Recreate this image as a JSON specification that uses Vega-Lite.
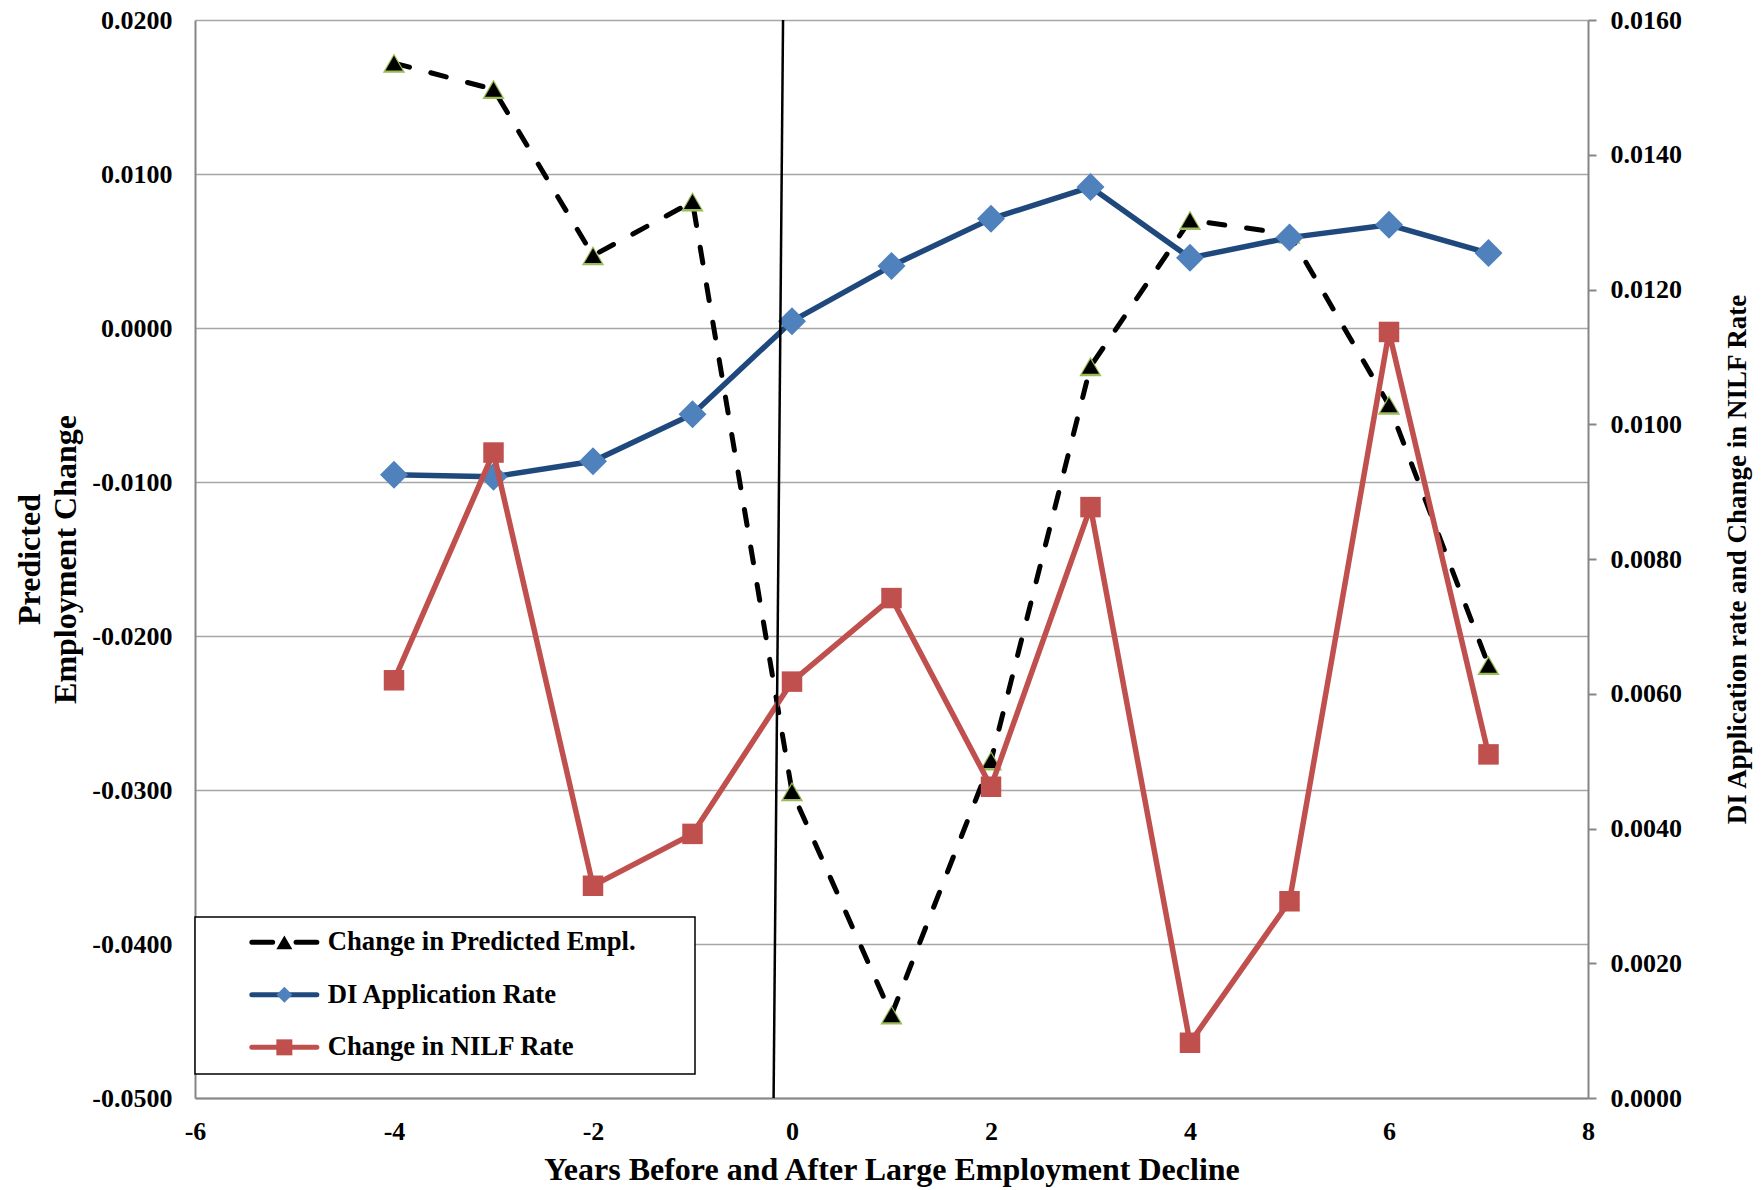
{
  "$schema": "https://vega.github.io/schema/vega-lite/v6.json",
  "width": 1393,
  "height": 1078,
  "autosize": {"type": "none"},
  "padding": {"left": 195, "top": 20, "right": 174, "bottom": 92},
  "background": "white",
  "config": {
    "view": {"stroke": null},
    "font": "Liberation Serif",
    "axis": {
      "labelFont": "Liberation Serif", "labelFontSize": 26, "labelFontWeight": "bold", "labelColor": "#000000",
      "titleFont": "Liberation Serif", "titleFontWeight": "bold", "titleColor": "#000000",
      "domainColor": "#868686", "domainWidth": 2, "tickColor": "#868686", "tickWidth": 2,
      "gridColor": "#A6A6A6", "gridWidth": 1.5, "labelFlush": false, "labelOverlap": false
    }
  },
  "datasets": {
    "main": [
      {"year": -4, "emp": 0.0172, "di": 0.00925, "nilf": 0.0062},
      {"year": -3, "emp": 0.0155, "di": 0.00922, "nilf": 0.00958},
      {"year": -2, "emp": 0.0047, "di": 0.00945, "nilf": 0.00315},
      {"year": -1, "emp": 0.0082, "di": 0.01015, "nilf": 0.00392},
      {"year": 0, "emp": -0.0301, "di": 0.01153, "nilf": 0.00618},
      {"year": 1, "emp": -0.0446, "di": 0.01235, "nilf": 0.00742},
      {"year": 2, "emp": -0.0281, "di": 0.01305, "nilf": 0.00462},
      {"year": 3, "emp": -0.0025, "di": 0.01352, "nilf": 0.00877},
      {"year": 4, "emp": 0.0070, "di": 0.01247, "nilf": 0.00082},
      {"year": 5, "emp": 0.0061, "di": 0.01277, "nilf": 0.00292},
      {"year": 6, "emp": -0.0050, "di": 0.01296, "nilf": 0.01137},
      {"year": 7, "emp": -0.0219, "di": 0.01254, "nilf": 0.0051}
    ],
    "ref": [
      {"rx": -0.09, "ry": 0.016},
      {"rx": -0.185, "ry": 0}
    ]
  },
  "layer": [
    {
      "data": {"name": "main"},
      "layer": [
        {
          "mark": {"type": "line", "strokeWidth": 5, "strokeDash": [16, 22], "strokeCap": "round"},
          "encoding": {
            "x": {"field": "year", "type": "quantitative", "scale": {"domain": [-6, 8], "nice": false, "zero": false}, "axis": {"values": [-6, -4, -2, 0, 2, 4, 6, 8], "title": "Years Before and After Large Employment Decline", "titleFontSize": 32, "titlePadding": 10, "ticks": false, "labelPadding": 20, "grid": false, "labelExpr": "replace(format(datum.value, 'd'), '\u2212', '-')"}},
            "y": {"field": "emp", "type": "quantitative", "scale": {"domain": [-0.05, 0.02], "nice": false, "zero": false}, "axis": {"values": [-0.05, -0.04, -0.03, -0.02, -0.01, 0, 0.01, 0.02], "title": ["Predicted", "Employment Change"], "titleFontSize": 32, "titleLineHeight": 36, "titleAngle": -90, "titleX": -166, "titleY": 539, "titleBaseline": "middle", "titleAlign": "center", "grid": true, "ticks": false, "labelPadding": 23, "labelExpr": "replace(format(datum.value, '.4f'), '\u2212', '-')"}},
            "stroke": {"datum": "Change in Predicted Empl.", "type": "nominal",
              "scale": {"domain": ["Change in Predicted Empl.", "DI Application Rate", "Change in NILF Rate"], "range": ["#000000", "#1F497D", "#C0504D"]},
              "legend": {"orient": "none", "legendX": 0, "legendY": 897, "title": null, "padding": 12, "rowPadding": 24.5, "zindex": 1, "symbolSize": 169, "symbolStrokeWidth": 5, "symbolOffset": 64, "labelOffset": 30, "labelFont": "Liberation Serif", "labelFontWeight": "bold", "labelFontSize": 26.7, "labelColor": "#000000", "labelLimit": 800, "labelExpr": "datum.label + '\u00a0\u00a0\u00a0\u00a0\u00a0\u00a0\u00a0\u200b'",
                "encode": {"legend": {"update": {"stroke": {"value": "#000000"}, "strokeWidth": {"value": 1.5}, "fill": {"value": "#ffffff"}}},
                           "symbols": {"update": {"shape": {"signal": "datum.value === 'Change in Predicted Empl.' ? 'M-5,0L-1.8,0M1.8,0L5,0' : 'M-5,0L5,0'"}, "strokeCap": {"value": "round"}}}}}}
          }
        },
        {
          "mark": {"type": "point", "shape": "triangle-up", "filled": true, "size": 500, "opacity": 1, "color": "#9BBB59", "strokeWidth": 0},
          "encoding": {
            "x": {"field": "year", "type": "quantitative", "scale": {"domain": [-6, 8], "nice": false, "zero": false}, "axis": {"values": [-6, -4, -2, 0, 2, 4, 6, 8], "title": "Years Before and After Large Employment Decline", "titleFontSize": 32, "titlePadding": 10, "ticks": false, "labelPadding": 20, "grid": false, "labelExpr": "replace(format(datum.value, 'd'), '\u2212', '-')"}},
            "y": {"field": "emp", "type": "quantitative", "scale": {"domain": [-0.05, 0.02], "nice": false, "zero": false}, "axis": {"values": [-0.05, -0.04, -0.03, -0.02, -0.01, 0, 0.01, 0.02], "title": ["Predicted", "Employment Change"], "titleFontSize": 32, "titleLineHeight": 36, "titleAngle": -90, "titleX": -166, "titleY": 539, "titleBaseline": "middle", "titleAlign": "center", "grid": true, "ticks": false, "labelPadding": 23, "labelExpr": "replace(format(datum.value, '.4f'), '\u2212', '-')"}}
          }
        },
        {
          "mark": {"type": "point", "filled": true, "size": 290, "opacity": 1, "strokeWidth": 0},
          "encoding": {
            "x": {"field": "year", "type": "quantitative", "scale": {"domain": [-6, 8], "nice": false, "zero": false}, "axis": {"values": [-6, -4, -2, 0, 2, 4, 6, 8], "title": "Years Before and After Large Employment Decline", "titleFontSize": 32, "titlePadding": 10, "ticks": false, "labelPadding": 20, "grid": false, "labelExpr": "replace(format(datum.value, 'd'), '\u2212', '-')"}},
            "y": {"field": "emp", "type": "quantitative", "scale": {"domain": [-0.05, 0.02], "nice": false, "zero": false}, "axis": {"values": [-0.05, -0.04, -0.03, -0.02, -0.01, 0, 0.01, 0.02], "title": ["Predicted", "Employment Change"], "titleFontSize": 32, "titleLineHeight": 36, "titleAngle": -90, "titleX": -166, "titleY": 539, "titleBaseline": "middle", "titleAlign": "center", "grid": true, "ticks": false, "labelPadding": 23, "labelExpr": "replace(format(datum.value, '.4f'), '\u2212', '-')"}},
            "fill": {"datum": "m1", "type": "nominal",
              "scale": {"domain": ["m1", "m2", "m3"], "range": ["#000000", "#4F81BD", "#C0504D"]},
              "legend": {"orient": "none", "legendX": 0, "legendY": 897, "title": null, "padding": 12, "rowPadding": 24.5, "zindex": 2, "symbolSize": 256, "symbolStrokeWidth": 0, "symbolOffset": 64, "labelOffset": 30, "labelFont": "Liberation Serif", "labelFontWeight": "bold", "labelFontSize": 26.7, "labelColor": "#000000", "labelLimit": 800, "labelExpr": "'\u00a0'"}},
            "shape": {"datum": "m1", "type": "nominal",
              "scale": {"domain": ["m1", "m2", "m3"], "range": ["triangle-up", "diamond", "square"]},
              "legend": {"orient": "none", "legendX": 0, "legendY": 897, "title": null, "padding": 12, "rowPadding": 24.5, "zindex": 2, "symbolSize": 256, "symbolStrokeWidth": 0, "symbolOffset": 64, "labelOffset": 30, "labelFont": "Liberation Serif", "labelFontWeight": "bold", "labelFontSize": 26.7, "labelColor": "#000000", "labelLimit": 800, "labelExpr": "'\u00a0'"}}
          }
        }
      ]
    },
    {
      "layer": [
        {
          "data": {"name": "main"},
          "mark": {"type": "line", "strokeWidth": 5.5},
          "encoding": {
            "x": {"field": "year", "type": "quantitative", "scale": {"domain": [-6, 8], "nice": false, "zero": false}, "axis": {"values": [-6, -4, -2, 0, 2, 4, 6, 8], "title": "Years Before and After Large Employment Decline", "titleFontSize": 32, "titlePadding": 10, "ticks": false, "labelPadding": 20, "grid": false, "labelExpr": "replace(format(datum.value, 'd'), '\u2212', '-')"}},
            "y": {"field": "di", "type": "quantitative", "scale": {"domain": [0, 0.016], "nice": false, "zero": false}, "axis": {"orient": "right", "values": [0, 0.002, 0.004, 0.006, 0.008, 0.01, 0.012, 0.014, 0.016], "format": ".4f", "title": "DI Application rate and Change  in NILF Rate", "titleFontSize": 27, "titleAngle": -90, "titleX": 149, "titleY": 539, "titleBaseline": "middle", "titleAlign": "center", "grid": false, "ticks": true, "tickSize": 8, "labelPadding": 14}},
            "stroke": {"datum": "DI Application Rate", "type": "nominal",
              "scale": {"domain": ["Change in Predicted Empl.", "DI Application Rate", "Change in NILF Rate"], "range": ["#000000", "#1F497D", "#C0504D"]},
              "legend": {"orient": "none", "legendX": 0, "legendY": 897, "title": null, "padding": 12, "rowPadding": 24.5, "zindex": 1, "symbolSize": 169, "symbolStrokeWidth": 5, "symbolOffset": 64, "labelOffset": 30, "labelFont": "Liberation Serif", "labelFontWeight": "bold", "labelFontSize": 26.7, "labelColor": "#000000", "labelLimit": 800, "labelExpr": "datum.label + '\u00a0\u00a0\u00a0\u00a0\u00a0\u00a0\u00a0\u200b'",
                "encode": {"legend": {"update": {"stroke": {"value": "#000000"}, "strokeWidth": {"value": 1.5}, "fill": {"value": "#ffffff"}}},
                           "symbols": {"update": {"shape": {"signal": "datum.value === 'Change in Predicted Empl.' ? 'M-5,0L-1.8,0M1.8,0L5,0' : 'M-5,0L5,0'"}, "strokeCap": {"value": "round"}}}}}}
          }
        },
        {
          "data": {"name": "main"},
          "mark": {"type": "point", "filled": true, "size": 784, "opacity": 1, "strokeWidth": 0},
          "encoding": {
            "x": {"field": "year", "type": "quantitative", "scale": {"domain": [-6, 8], "nice": false, "zero": false}, "axis": {"values": [-6, -4, -2, 0, 2, 4, 6, 8], "title": "Years Before and After Large Employment Decline", "titleFontSize": 32, "titlePadding": 10, "ticks": false, "labelPadding": 20, "grid": false, "labelExpr": "replace(format(datum.value, 'd'), '\u2212', '-')"}},
            "y": {"field": "di", "type": "quantitative", "scale": {"domain": [0, 0.016], "nice": false, "zero": false}, "axis": {"orient": "right", "values": [0, 0.002, 0.004, 0.006, 0.008, 0.01, 0.012, 0.014, 0.016], "format": ".4f", "title": "DI Application rate and Change  in NILF Rate", "titleFontSize": 27, "titleAngle": -90, "titleX": 149, "titleY": 539, "titleBaseline": "middle", "titleAlign": "center", "grid": false, "ticks": true, "tickSize": 8, "labelPadding": 14}},
            "fill": {"datum": "m2", "type": "nominal",
              "scale": {"domain": ["m1", "m2", "m3"], "range": ["#000000", "#4F81BD", "#C0504D"]},
              "legend": {"orient": "none", "legendX": 0, "legendY": 897, "title": null, "padding": 12, "rowPadding": 24.5, "zindex": 2, "symbolSize": 256, "symbolStrokeWidth": 0, "symbolOffset": 64, "labelOffset": 30, "labelFont": "Liberation Serif", "labelFontWeight": "bold", "labelFontSize": 26.7, "labelColor": "#000000", "labelLimit": 800, "labelExpr": "'\u00a0'"}},
            "shape": {"datum": "m2", "type": "nominal",
              "scale": {"domain": ["m1", "m2", "m3"], "range": ["triangle-up", "diamond", "square"]},
              "legend": {"orient": "none", "legendX": 0, "legendY": 897, "title": null, "padding": 12, "rowPadding": 24.5, "zindex": 2, "symbolSize": 256, "symbolStrokeWidth": 0, "symbolOffset": 64, "labelOffset": 30, "labelFont": "Liberation Serif", "labelFontWeight": "bold", "labelFontSize": 26.7, "labelColor": "#000000", "labelLimit": 800, "labelExpr": "'\u00a0'"}}
          }
        },
        {
          "data": {"name": "main"},
          "mark": {"type": "line", "strokeWidth": 5.5},
          "encoding": {
            "x": {"field": "year", "type": "quantitative", "scale": {"domain": [-6, 8], "nice": false, "zero": false}, "axis": {"values": [-6, -4, -2, 0, 2, 4, 6, 8], "title": "Years Before and After Large Employment Decline", "titleFontSize": 32, "titlePadding": 10, "ticks": false, "labelPadding": 20, "grid": false, "labelExpr": "replace(format(datum.value, 'd'), '\u2212', '-')"}},
            "y": {"field": "nilf", "type": "quantitative", "scale": {"domain": [0, 0.016], "nice": false, "zero": false}, "axis": {"orient": "right", "values": [0, 0.002, 0.004, 0.006, 0.008, 0.01, 0.012, 0.014, 0.016], "format": ".4f", "title": "DI Application rate and Change  in NILF Rate", "titleFontSize": 27, "titleAngle": -90, "titleX": 149, "titleY": 539, "titleBaseline": "middle", "titleAlign": "center", "grid": false, "ticks": true, "tickSize": 8, "labelPadding": 14}},
            "stroke": {"datum": "Change in NILF Rate", "type": "nominal",
              "scale": {"domain": ["Change in Predicted Empl.", "DI Application Rate", "Change in NILF Rate"], "range": ["#000000", "#1F497D", "#C0504D"]},
              "legend": {"orient": "none", "legendX": 0, "legendY": 897, "title": null, "padding": 12, "rowPadding": 24.5, "zindex": 1, "symbolSize": 169, "symbolStrokeWidth": 5, "symbolOffset": 64, "labelOffset": 30, "labelFont": "Liberation Serif", "labelFontWeight": "bold", "labelFontSize": 26.7, "labelColor": "#000000", "labelLimit": 800, "labelExpr": "datum.label + '\u00a0\u00a0\u00a0\u00a0\u00a0\u00a0\u00a0\u200b'",
                "encode": {"legend": {"update": {"stroke": {"value": "#000000"}, "strokeWidth": {"value": 1.5}, "fill": {"value": "#ffffff"}}},
                           "symbols": {"update": {"shape": {"signal": "datum.value === 'Change in Predicted Empl.' ? 'M-5,0L-1.8,0M1.8,0L5,0' : 'M-5,0L5,0'"}, "strokeCap": {"value": "round"}}}}}}
          }
        },
        {
          "data": {"name": "main"},
          "mark": {"type": "point", "filled": true, "size": 420, "opacity": 1, "strokeWidth": 0},
          "encoding": {
            "x": {"field": "year", "type": "quantitative", "scale": {"domain": [-6, 8], "nice": false, "zero": false}, "axis": {"values": [-6, -4, -2, 0, 2, 4, 6, 8], "title": "Years Before and After Large Employment Decline", "titleFontSize": 32, "titlePadding": 10, "ticks": false, "labelPadding": 20, "grid": false, "labelExpr": "replace(format(datum.value, 'd'), '\u2212', '-')"}},
            "y": {"field": "nilf", "type": "quantitative", "scale": {"domain": [0, 0.016], "nice": false, "zero": false}, "axis": {"orient": "right", "values": [0, 0.002, 0.004, 0.006, 0.008, 0.01, 0.012, 0.014, 0.016], "format": ".4f", "title": "DI Application rate and Change  in NILF Rate", "titleFontSize": 27, "titleAngle": -90, "titleX": 149, "titleY": 539, "titleBaseline": "middle", "titleAlign": "center", "grid": false, "ticks": true, "tickSize": 8, "labelPadding": 14}},
            "fill": {"datum": "m3", "type": "nominal",
              "scale": {"domain": ["m1", "m2", "m3"], "range": ["#000000", "#4F81BD", "#C0504D"]},
              "legend": {"orient": "none", "legendX": 0, "legendY": 897, "title": null, "padding": 12, "rowPadding": 24.5, "zindex": 2, "symbolSize": 256, "symbolStrokeWidth": 0, "symbolOffset": 64, "labelOffset": 30, "labelFont": "Liberation Serif", "labelFontWeight": "bold", "labelFontSize": 26.7, "labelColor": "#000000", "labelLimit": 800, "labelExpr": "'\u00a0'"}},
            "shape": {"datum": "m3", "type": "nominal",
              "scale": {"domain": ["m1", "m2", "m3"], "range": ["triangle-up", "diamond", "square"]},
              "legend": {"orient": "none", "legendX": 0, "legendY": 897, "title": null, "padding": 12, "rowPadding": 24.5, "zindex": 2, "symbolSize": 256, "symbolStrokeWidth": 0, "symbolOffset": 64, "labelOffset": 30, "labelFont": "Liberation Serif", "labelFontWeight": "bold", "labelFontSize": 26.7, "labelColor": "#000000", "labelLimit": 800, "labelExpr": "'\u00a0'"}}
          }
        },
        {
          "data": {"name": "ref"},
          "mark": {"type": "line", "strokeWidth": 2.5, "color": "#000000"},
          "encoding": {
            "x": {"field": "rx", "type": "quantitative", "scale": {"domain": [-6, 8], "nice": false, "zero": false}, "axis": {"values": [-6, -4, -2, 0, 2, 4, 6, 8], "title": "Years Before and After Large Employment Decline", "titleFontSize": 32, "titlePadding": 10, "ticks": false, "labelPadding": 20, "grid": false, "labelExpr": "replace(format(datum.value, 'd'), '\u2212', '-')"}},
            "y": {"field": "ry", "type": "quantitative", "scale": {"domain": [0, 0.016], "nice": false, "zero": false}, "axis": {"orient": "right", "values": [0, 0.002, 0.004, 0.006, 0.008, 0.01, 0.012, 0.014, 0.016], "format": ".4f", "title": "DI Application rate and Change  in NILF Rate", "titleFontSize": 27, "titleAngle": -90, "titleX": 149, "titleY": 539, "titleBaseline": "middle", "titleAlign": "center", "grid": false, "ticks": true, "tickSize": 8, "labelPadding": 14}}
          }
        }
      ]
    }
  ],
  "resolve": {"scale": {"y": "independent"}}
}
